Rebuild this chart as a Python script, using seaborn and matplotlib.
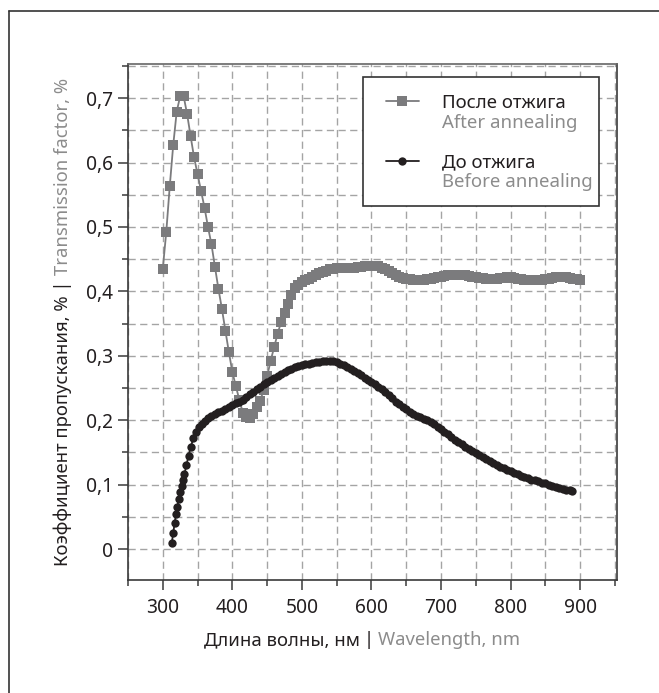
import numpy as np
import pandas as pd
import matplotlib
matplotlib.use("Agg")
import matplotlib.pyplot as plt
import seaborn as sns
from matplotlib.lines import Line2D
from matplotlib.patches import Rectangle
from matplotlib.ticker import MultipleLocator, FuncFormatter

# ---------------- data ----------------
after_wl = [300, 305, 310, 315, 320, 325, 330, 335, 340, 345, 350, 355, 360, 365, 370, 375,
            380, 385, 390, 395, 400, 405, 410, 415, 420, 425, 430, 435, 440, 445, 450, 455,
            460, 465, 470, 475, 480, 485, 490, 495, 500, 505, 510, 515, 520, 525, 530, 535,
            540, 545, 550, 555, 560, 565, 570, 575, 580, 585, 590, 595, 600, 605, 610, 615,
            620, 625, 630, 635, 640, 645, 650, 655, 660, 665, 670, 675, 680, 685, 690, 695,
            700, 705, 710, 715, 720, 725, 730, 735, 740, 745, 750, 755, 760, 765, 770, 775,
            780, 785, 790, 795, 800, 805, 810, 815, 820, 825, 830, 835, 840, 845, 850, 855,
            860, 865, 870, 875, 880, 885, 890, 895, 900]
after_val = [0.435, 0.492, 0.563, 0.627, 0.679, 0.703, 0.703, 0.675, 0.641, 0.608, 0.582, 0.556,
             0.530, 0.500, 0.473, 0.438, 0.404, 0.373, 0.339, 0.306, 0.275, 0.253, 0.232, 0.212,
             0.205, 0.204, 0.210, 0.220, 0.230, 0.247, 0.268, 0.292, 0.313, 0.334, 0.352, 0.367,
             0.381, 0.394, 0.405, 0.410, 0.414, 0.417, 0.420, 0.422, 0.425, 0.428, 0.430, 0.432,
             0.434, 0.435, 0.436, 0.437, 0.437, 0.437, 0.437, 0.437, 0.438, 0.438, 0.439, 0.440,
             0.440, 0.440, 0.439, 0.437, 0.434, 0.431, 0.428, 0.425, 0.423, 0.421, 0.420, 0.419,
             0.418, 0.418, 0.418, 0.418, 0.419, 0.420, 0.421, 0.422, 0.423, 0.424, 0.425, 0.426,
             0.426, 0.426, 0.426, 0.425, 0.424, 0.423, 0.422, 0.421, 0.421, 0.420, 0.420, 0.420,
             0.420, 0.421, 0.421, 0.422, 0.422, 0.421, 0.420, 0.419, 0.418, 0.418, 0.417, 0.417,
             0.417, 0.418, 0.419, 0.420, 0.421, 0.422, 0.423, 0.423, 0.422, 0.421, 0.420, 0.419,
             0.418]

before_wl = [313, 315, 317, 319, 321, 323, 325, 327, 329, 331, 334, 337, 340, 344, 348, 352,
             356, 360, 365, 370, 375, 380, 385, 390, 395, 400, 405, 410, 415, 420, 425, 430,
             435, 440, 445, 450, 455, 460, 465, 470, 475, 480, 485, 490, 495, 500, 505, 510,
             515, 520, 525, 530, 535, 540, 545, 550, 555, 560, 565, 570, 575, 580, 585, 590,
             595, 600, 605, 610, 615, 620, 625, 630, 635, 640, 645, 650, 655, 660, 665, 670,
             675, 680, 685, 690, 695, 700, 705, 710, 715, 720, 725, 730, 735, 740, 745, 750,
             755, 760, 765, 770, 775, 780, 785, 790, 795, 800, 805, 810, 815, 820, 825, 830,
             835, 840, 845, 850, 855, 860, 865, 870, 875, 880, 885, 888]
before_val = [0.010, 0.025, 0.040, 0.054, 0.066, 0.078, 0.088, 0.098, 0.107, 0.116, 0.130, 0.145,
              0.158, 0.172, 0.182, 0.189, 0.194, 0.199, 0.203, 0.207, 0.210, 0.213, 0.215, 0.218,
              0.220, 0.223, 0.226, 0.229, 0.232, 0.236, 0.240, 0.244, 0.248, 0.252, 0.256, 0.260,
              0.263, 0.266, 0.269, 0.272, 0.275, 0.278, 0.280, 0.282, 0.284, 0.286, 0.287, 0.288,
              0.289, 0.290, 0.291, 0.292, 0.292, 0.292, 0.292, 0.290, 0.288, 0.285, 0.282, 0.279,
              0.276, 0.273, 0.270, 0.266, 0.263, 0.260, 0.256, 0.252, 0.248, 0.244, 0.239, 0.234,
              0.229, 0.225, 0.221, 0.217, 0.213, 0.210, 0.207, 0.205, 0.202, 0.200, 0.197, 0.194,
              0.190, 0.186, 0.182, 0.178, 0.174, 0.170, 0.166, 0.163, 0.159, 0.156, 0.152, 0.149,
              0.146, 0.143, 0.140, 0.137, 0.134, 0.131, 0.128, 0.126, 0.123, 0.121, 0.118, 0.116,
              0.114, 0.112, 0.110, 0.108, 0.107, 0.105, 0.103, 0.102, 0.100, 0.098, 0.097, 0.095,
              0.094, 0.092, 0.091, 0.090]

legend_ru = ["После отжига", "До отжига"]
legend_en = ["After annealing", "Before annealing"]
xlabel_parts = ["Длина волны, нм", "|", "Wavelength, nm"]
ylabel_parts = ["Коэффициент пропускания, %", "|", "Transmission factor, %"]

# ---------------- style ----------------
DARK = "#231f20"
GRAY = "#7b7b7d"
TXTGRAY = "#8c8c8c"
SPINE = "#3a3a3a"
GRID = "#a4a4a4"

sns.set_theme(style="white")
plt.rcParams["font.family"] = ["Noto Sans", "DejaVu Sans"]
plt.rcParams["lines.scale_dashes"] = False

W, H = 659, 693
fig = plt.figure(figsize=(W / 100, H / 100), dpi=100)
fig.patch.set_facecolor("white")
ax = fig.add_axes([128 / W, 1 - 580 / H, (617 - 128) / W, (580 - 64) / H])
ax.set_facecolor("white")

df_after = pd.DataFrame({"wl": after_wl, "val": after_val})
df_before = pd.DataFrame({"wl": before_wl, "val": before_val})

SQ = 7.0
CI = 6.0
sns.lineplot(data=df_after, x="wl", y="val", ax=ax, color=GRAY, linewidth=1.3,
             marker="s", markersize=SQ, markeredgewidth=0, estimator=None, sort=False,
             zorder=3)
sns.lineplot(data=df_before, x="wl", y="val", ax=ax, color=DARK, linewidth=1.3,
             marker="o", markersize=CI, markeredgewidth=0, estimator=None, sort=False,
             zorder=3)

ax.set_xlim(250, 953)
ax.set_ylim(-0.048, 0.753)
ax.xaxis.set_minor_locator(MultipleLocator(50))
ax.yaxis.set_minor_locator(MultipleLocator(0.05))
ax.set_xticks([300, 400, 500, 600, 700, 800, 900])
ax.set_yticks([0, 0.1, 0.2, 0.3, 0.4, 0.5, 0.6, 0.7])
ax.yaxis.set_major_formatter(FuncFormatter(
    lambda v, p: "0" if abs(v) < 1e-9 else f"{v:.1f}".replace(".", ",")))

ax.grid(True, which="both", linestyle=(0, (5.2, 3.2)), color=GRID, linewidth=1.0, zorder=0)
ax.set_axisbelow(True)
ax.tick_params(which="major", direction="out", length=7, width=1.1, color=SPINE,
               labelsize=13.8, labelcolor=DARK, pad=4)
ax.tick_params(which="minor", direction="out", length=4.5, width=1.1, color=SPINE)
ax.tick_params(axis="x", which="major", pad=6)
ax.tick_params(left=True, bottom=True, which="both")
for s in ax.spines.values():
    s.set_visible(True)
    s.set_color(SPINE)
    s.set_linewidth(1.2)
ax.spines["top"].set_color("#666666")
ax.set_xlabel("")
ax.set_ylabel("")

# ---------------- legend ----------------
rect = Rectangle((363 / W, 1 - 206 / H), (599 - 363) / W, (206 - 77) / H,
                 transform=fig.transFigure, facecolor="white", edgecolor="#333333",
                 linewidth=1.2, zorder=4, clip_on=False)
ax.add_patch(rect)
blank = Line2D([], [], linestyle="none")
h_after = Line2D([], [], color=GRAY, marker="s", markersize=SQ, markeredgewidth=0, lw=1.3)
h_before = Line2D([], [], color=DARK, marker="o", markersize=CI, markeredgewidth=0, lw=1.3)
leg = ax.legend([h_after, blank, blank, h_before, blank],
                [legend_ru[0], legend_en[0], " ", legend_ru[1], legend_en[1]],
                loc="upper left", bbox_to_anchor=(386 / W, 1 - 94 / H),
                bbox_transform=fig.transFigure, frameon=False, handlelength=1.75,
                handletextpad=1.25, labelspacing=0.1, borderpad=0, borderaxespad=0,
                fontsize=13.4)
leg.set_zorder(5)
for t, c in zip(leg.get_texts(), [DARK, TXTGRAY, DARK, DARK, TXTGRAY]):
    t.set_color(c)

# ---------------- axis labels (multi-coloured) ----------------
LBL = 13.3
fig.canvas.draw()
renderer = fig.canvas.get_renderer()


def text_width(s, weight="normal"):
    t = fig.text(0, 0, s, fontsize=LBL, fontweight=weight)
    w = t.get_window_extent(renderer).width
    t.remove()
    return w


# x label: pieces laid out one after another, centred
lengths = [text_width(s, w) for s, w in zip(xlabel_parts, ["normal", "bold", "normal"])]
gap = 4
total = sum(lengths) + 2 * gap
pos = 362 - total / 2
for s, w, c, L in zip(xlabel_parts, ["normal", "bold", "normal"], [DARK, DARK, TXTGRAY], lengths):
    fig.text(pos / W, (H - 645) / H, s, fontsize=LBL, fontweight=w, color=c,
             ha="left", va="baseline")
    pos += L + gap

# y label: dark prefix, grey suffix placed where it falls in the full string
full_y = ylabel_parts[0] + " " + ylabel_parts[1] + " " + ylabel_parts[2]
prefix_y = ylabel_parts[0] + " " + ylabel_parts[1]
ylen = text_width(full_y)
suf_len = text_width(ylabel_parts[2])
y0 = (H - 322) - ylen / 2
fig.text(68 / W, y0 / H, prefix_y, rotation=90, rotation_mode="anchor", fontsize=LBL,
         color=DARK, ha="left", va="baseline")
fig.text(68 / W, (y0 + ylen) / H, ylabel_parts[2], rotation=90, rotation_mode="anchor",
         fontsize=LBL, color=TXTGRAY, ha="right", va="baseline")

# ---------------- outer frame ----------------
fig.add_artist(Line2D([9 / W, 9 / W], [0, 1 - 11 / H], transform=fig.transFigure,
                      color="#333333", lw=1.2))
fig.add_artist(Line2D([9 / W, 1], [1 - 11 / H, 1 - 11 / H], transform=fig.transFigure,
                      color="#333333", lw=1.2))

fig.savefig("out.png", dpi=100, facecolor="white")
